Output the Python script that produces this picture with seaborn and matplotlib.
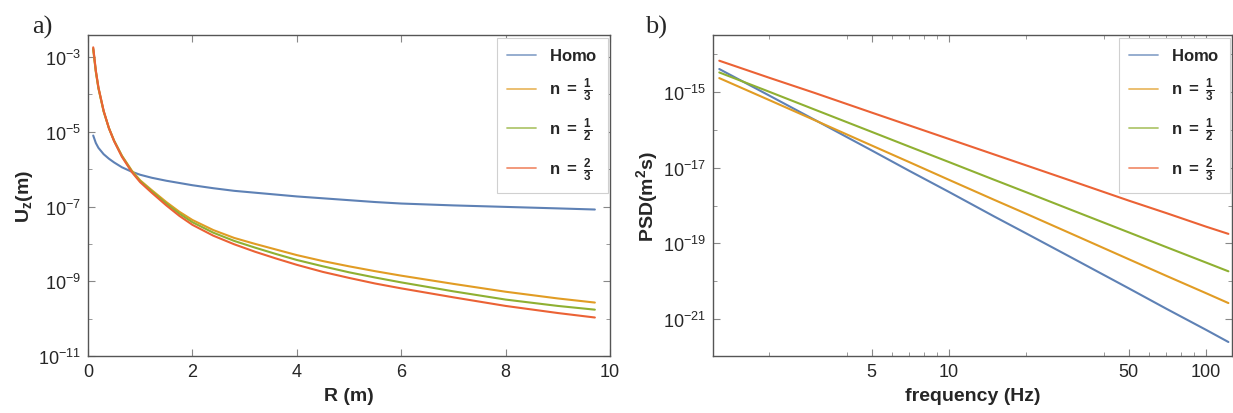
import numpy as np
import pandas as pd
import matplotlib
matplotlib.use("Agg")
import matplotlib.pyplot as plt
import matplotlib.ticker as mticker
import seaborn as sns

# ---------------- data ----------------
# panel a) : vertical displacement U_z (m) vs distance R (m), values as log10
R_m = [0.10, 0.15, 0.2, 0.3, 0.4, 0.5, 0.65, 0.84, 1.0, 1.22, 1.5, 1.75, 2.0, 2.4, 2.8,
       3.2, 3.6, 4.0, 4.5, 5.0, 5.5, 6.0, 7.0, 8.0, 9.0, 9.71]
uz_homo_log = [-5.10, -5.30, -5.43, -5.60, -5.72, -5.82, -5.95, -6.07, -6.15, -6.23, -6.31, -6.37, -6.43,
               -6.51, -6.58, -6.63, -6.68, -6.73, -6.78, -6.83, -6.88, -6.92, -6.97, -7.01, -7.05, -7.08]
uz_n13_log = [-2.80, -3.40, -3.84, -4.46, -4.90, -5.24, -5.64, -6.04, -6.30, -6.56, -6.88, -7.14, -7.36,
              -7.63, -7.84, -8.00, -8.15, -8.30, -8.46, -8.60, -8.73, -8.85, -9.07, -9.28, -9.46, -9.57]
uz_n12_log = [-2.77, -3.38, -3.83, -4.45, -4.90, -5.24, -5.65, -6.06, -6.32, -6.59, -6.92, -7.19, -7.42,
              -7.70, -7.92, -8.10, -8.27, -8.43, -8.60, -8.76, -8.90, -9.03, -9.27, -9.49, -9.66, -9.76]
uz_n23_log = [-2.74, -3.36, -3.81, -4.44, -4.90, -5.25, -5.67, -6.08, -6.35, -6.63, -6.97, -7.25, -7.49,
              -7.78, -8.01, -8.21, -8.39, -8.56, -8.75, -8.91, -9.06, -9.19, -9.43, -9.66, -9.85, -9.97]

# panel b) : PSD (m^2 s) vs frequency (Hz), values as log10
freq_hz = [1.28, 2, 3, 5, 7, 10, 15, 20, 30, 50, 70, 100, 122]
psd_homo_log = [-14.39, -15.09, -15.73, -16.54, -17.08, -17.64, -18.29, -18.74, -19.38, -20.19, -20.73, -21.29, -21.61]
psd_n13_log = [-14.63, -15.21, -15.74, -16.41, -16.85, -17.32, -17.85, -18.22, -18.75, -19.42, -19.86, -20.32, -20.58]
psd_n12_log = [-14.48, -14.99, -15.46, -16.05, -16.44, -16.85, -17.32, -17.65, -18.12, -18.71, -19.10, -19.51, -19.74]
psd_n23_log = [-14.17, -14.62, -15.02, -15.54, -15.88, -16.24, -16.65, -16.94, -17.35, -17.87, -18.20, -18.56, -18.75]

series_names = ["Homo", "n13", "n12", "n23"]
legend_labels = [r"$\mathbf{Homo}$",
                 r"$\mathbf{n\ =\ }\frac{\mathbf{1}}{\mathbf{3}}$",
                 r"$\mathbf{n\ =\ }\frac{\mathbf{1}}{\mathbf{2}}$",
                 r"$\mathbf{n\ =\ }\frac{\mathbf{2}}{\mathbf{3}}$"]
colors = ["#5E81B5", "#E19C24", "#8FB032", "#EB6235"]

# ---------------- tables ----------------
df_a = pd.concat([
    pd.DataFrame({"R": R_m, "U": 10.0 ** np.array(v), "series": s})
    for s, v in zip(series_names, [uz_homo_log, uz_n13_log, uz_n12_log, uz_n23_log])
])
df_b = pd.concat([
    pd.DataFrame({"f": freq_hz, "P": 10.0 ** np.array(v), "series": s})
    for s, v in zip(series_names, [psd_homo_log, psd_n13_log, psd_n12_log, psd_n23_log])
])

# ---------------- style ----------------
sns.set_theme(style="ticks")
plt.rcParams["font.family"] = ["Liberation Sans", "DejaVu Sans"]
plt.rcParams["mathtext.fontset"] = "custom"
plt.rcParams["mathtext.rm"] = "Liberation Sans"
plt.rcParams["mathtext.it"] = "Liberation Sans:italic"
plt.rcParams["mathtext.bf"] = "Liberation Sans:bold"
plt.rcParams["axes.edgecolor"] = "#555555"
plt.rcParams["axes.linewidth"] = 1.0

fig = plt.figure(figsize=(12.33, 4.14), dpi=100)
ax1 = fig.add_axes([88 / 1233, 57 / 414, 522 / 1233, 321 / 414])
ax2 = fig.add_axes([713 / 1233, 57 / 414, 519 / 1233, 321 / 414])

pal = dict(zip(series_names, colors))
sns.lineplot(data=df_a, x="R", y="U", hue="series", palette=pal, ax=ax1,
             linewidth=1.5, legend=False, sort=False)
sns.lineplot(data=df_b, x="f", y="P", hue="series", palette=pal, ax=ax2,
             linewidth=1.5, legend=False, sort=False)

# ---- panel a axes ----
ax1.set_yscale("log")
ax1.set_xlim(0, 10)
ax1.set_ylim(1e-11, 10 ** -2.41)
ax1.yaxis.set_major_locator(mticker.FixedLocator([1e-11, 1e-9, 1e-7, 1e-5, 1e-3]))
ax1.yaxis.set_minor_locator(mticker.FixedLocator([1e-10, 1e-8, 1e-6, 1e-4]))
ax1.yaxis.set_major_formatter(mticker.LogFormatterMathtext())
ax1.yaxis.set_minor_formatter(mticker.NullFormatter())
ax1.xaxis.set_major_locator(mticker.FixedLocator([0, 2, 4, 6, 8, 10]))
ax1.xaxis.set_minor_locator(mticker.NullLocator())
ax1.set_xlabel("R (m)", fontsize=14, fontweight="bold", labelpad=5)
ax1.set_ylabel(r"$\mathbf{U_z(m)}$", fontsize=14, labelpad=2)

# ---- panel b axes ----
ax2.set_xscale("log")
ax2.set_yscale("log")
ax2.set_xlim(1.21, 126)
ax2.set_ylim(10 ** -21.98, 10 ** -13.49)
ax2.xaxis.set_major_locator(mticker.FixedLocator([5, 10, 50, 100]))
ax2.xaxis.set_minor_locator(mticker.FixedLocator([2, 4, 6, 7, 8, 9, 20, 40, 60, 70, 80, 90]))
ax2.xaxis.set_major_formatter(mticker.FuncFormatter(lambda v, p: f"{v:g}"))
ax2.xaxis.set_minor_formatter(mticker.NullFormatter())
ax2.yaxis.set_major_locator(mticker.FixedLocator([1e-21, 1e-19, 1e-17, 1e-15]))
ax2.yaxis.set_minor_locator(mticker.FixedLocator([1e-20, 1e-18, 1e-16, 1e-14]))
ax2.yaxis.set_major_formatter(mticker.LogFormatterMathtext())
ax2.yaxis.set_minor_formatter(mticker.NullFormatter())
ax2.set_xlabel("frequency (Hz)", fontsize=14, fontweight="bold", labelpad=5)
ax2.set_ylabel(r"$\mathbf{PSD(m^2s)}$", fontsize=14, labelpad=2)

for ax in (ax1, ax2):
    ax.tick_params(which="both", direction="in", top=True, right=True,
                   color="#888888", labelsize=13, pad=5)
    ax.tick_params(which="major", length=5, width=0.8)
    ax.tick_params(which="minor", length=3, width=0.6)
    for sp in ax.spines.values():
        sp.set_visible(True)
    handles = [plt.Line2D([], [], color=c, lw=1.3, alpha=0.7) for c in colors]
    leg = ax.legend(handles, legend_labels, loc="upper right",
                    bbox_to_anchor=(1.0, 1.0), borderaxespad=0.15,
                    fontsize=12, handlelength=1.7, handletextpad=0.8,
                    labelspacing=0.75, borderpad=0.6, fancybox=False,
                    framealpha=1, edgecolor="#d0d0d0")
    leg.get_frame().set_linewidth(0.8)

fig.text(32 / 1233, 1 - 34 / 414, "a)", fontsize=19, family="Liberation Serif")
fig.text(645 / 1233, 1 - 34 / 414, "b)", fontsize=19, family="Liberation Serif")

fig.savefig("out.png", dpi=100)
